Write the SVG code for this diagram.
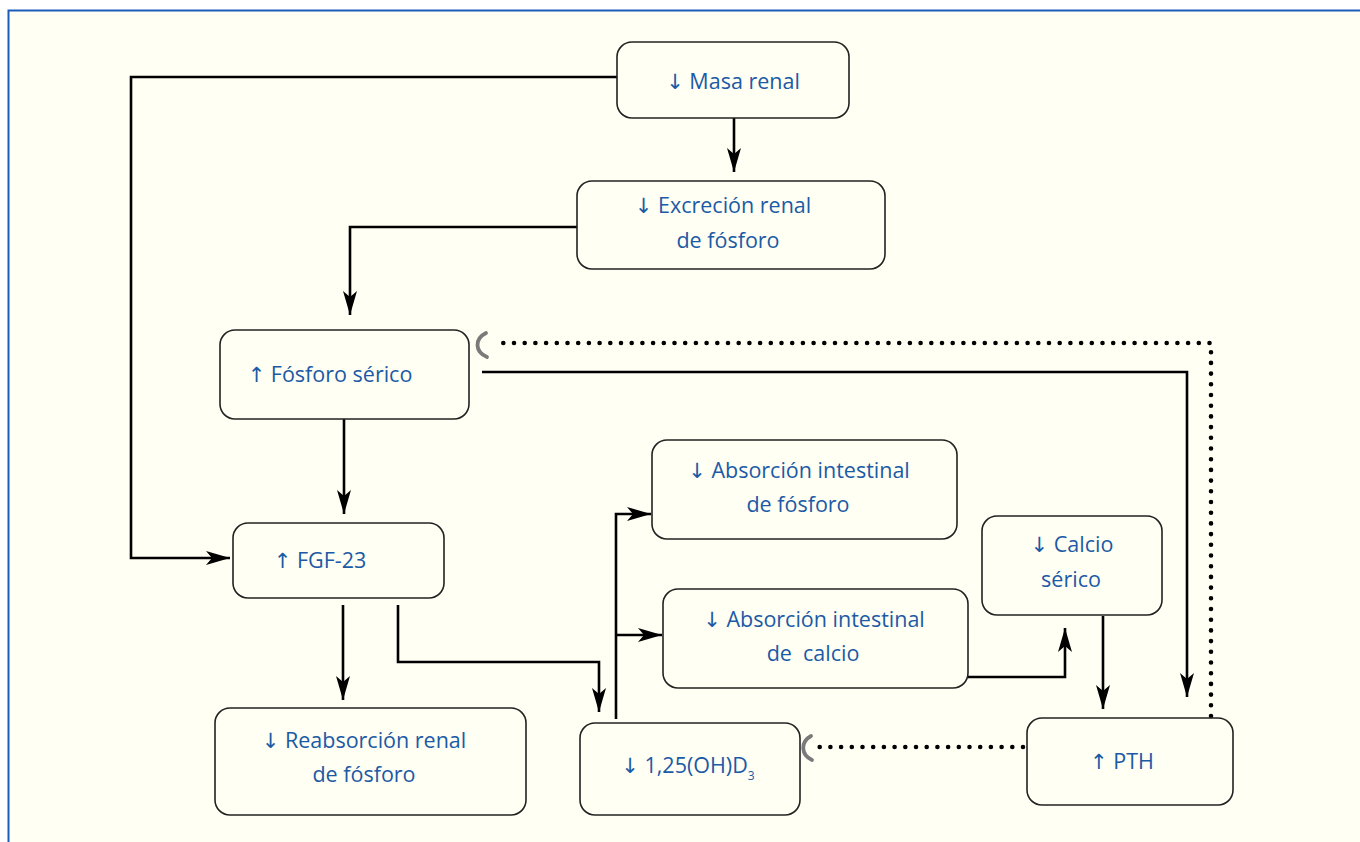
<svg xmlns="http://www.w3.org/2000/svg" width="1360" height="842" viewBox="0 0 1360 842">
<defs>
<marker id="ah" markerWidth="24" markerHeight="14" refX="24" refY="7" orient="auto" markerUnits="userSpaceOnUse">
<path d="M0,0 L24,7 L0,14 L6,7 Z" fill="#000"/>
</marker>
</defs>
<style>
.box{fill:#FFFFF3;stroke:#222;stroke-width:1.6}
.t{font-family:"Open Sans","Noto Sans",sans-serif;font-size:21.5px;fill:#1B5AA6;text-anchor:middle}
.ar{font-family:"DejaVu Sans",sans-serif;font-size:21px}
.c{fill:none;stroke:#000;stroke-width:2.6}
.a{marker-end:url(#ah)}
.dot{fill:none;stroke:#000;stroke-width:4.6;stroke-linecap:round;stroke-dasharray:0 10.7}
.inh{fill:none;stroke:#7a7a7a;stroke-width:3.8;stroke-linecap:round}
</style>
<rect x="0" y="0" width="1360" height="842" fill="#FFFFFF"/>
<rect x="8" y="10" width="1352" height="832" fill="#FFFFF3"/>
<path d="M8.5,842 V10.5 H1360" fill="none" stroke="#1A5CB8" stroke-width="2"/>

<g id="connectors">
<path class="c a" d="M617,77 H131 V558 H230"/>
<path class="c a" d="M734,118 V172"/>
<path class="c a" d="M577,227 H350 V315"/>
<path class="c a" d="M344,419 V514"/>
<path class="c a" d="M482,372 H1187 V697"/>
<path class="c a" d="M343,605 V700"/>
<path class="c a" d="M398,605 V662 H599 V712"/>
<path class="c a" d="M616,719 V514 H651"/>
<path class="c a" d="M616,635 H662"/>
<path class="c a" d="M968,677 H1065 V628"/>
<path class="c a" d="M1103,616 V709"/>
<path class="dot" d="M1211,716 V343 H493"/>
<path class="dot" d="M1023,747 H817"/>
<path class="inh" d="M486,333 C474,339 475,352 487,357"/>
<path class="inh" d="M811,736 C800,742 801,755 812,760"/>
</g>

<g id="masa-renal">
<rect class="box" x="617" y="42" width="232" height="76" rx="15"/>
<text class="t" x="733" y="89"><tspan class="ar">↓</tspan> Masa renal</text>
</g>
<g id="excrecion-renal">
<rect class="box" x="577" y="181" width="308" height="88" rx="15"/>
<text class="t" x="723" y="213"><tspan class="ar">↓</tspan> Excreción renal</text>
<text class="t" x="728" y="248">de fósforo</text>
</g>
<g id="fosforo-serico">
<rect class="box" x="220" y="330" width="249" height="89" rx="15"/>
<text class="t" x="330" y="382"><tspan class="ar">↑</tspan> Fósforo sérico</text>
</g>
<g id="fgf23">
<rect class="box" x="233" y="523" width="211" height="75" rx="15"/>
<text class="t" x="320" y="568"><tspan class="ar">↑</tspan> FGF-23</text>
</g>
<g id="reabsorcion-renal">
<rect class="box" x="215" y="708" width="311" height="107" rx="15"/>
<text class="t" x="364" y="748"><tspan class="ar">↓</tspan> Reabsorción renal</text>
<text class="t" x="364" y="782">de fósforo</text>
</g>
<g id="vitamina-d">
<rect class="box" x="580" y="723" width="220" height="92" rx="15"/>
<text class="t" x="688" y="773"><tspan class="ar">↓</tspan> 1,25(OH)D<tspan font-size="12" dy="7">3</tspan></text>
</g>
<g id="absorcion-fosforo">
<rect class="box" x="652" y="440" width="305" height="99" rx="15"/>
<text class="t" x="799" y="478"><tspan class="ar">↓</tspan> Absorción intestinal</text>
<text class="t" x="798" y="512">de fósforo</text>
</g>
<g id="absorcion-calcio">
<rect class="box" x="663" y="589" width="305" height="99" rx="15"/>
<text class="t" x="814" y="627"><tspan class="ar">↓</tspan> Absorción intestinal</text>
<text class="t" x="813" y="661" xml:space="preserve">de  calcio</text>
</g>
<g id="calcio-serico">
<rect class="box" x="982" y="516" width="180" height="99" rx="15"/>
<text class="t" x="1072" y="552"><tspan class="ar">↓</tspan> Calcio</text>
<text class="t" x="1071" y="587">sérico</text>
</g>
<g id="pth">
<rect class="box" x="1027" y="718" width="206" height="87" rx="15"/>
<text class="t" x="1122" y="769"><tspan class="ar">↑</tspan> PTH</text>
</g>
</svg>
